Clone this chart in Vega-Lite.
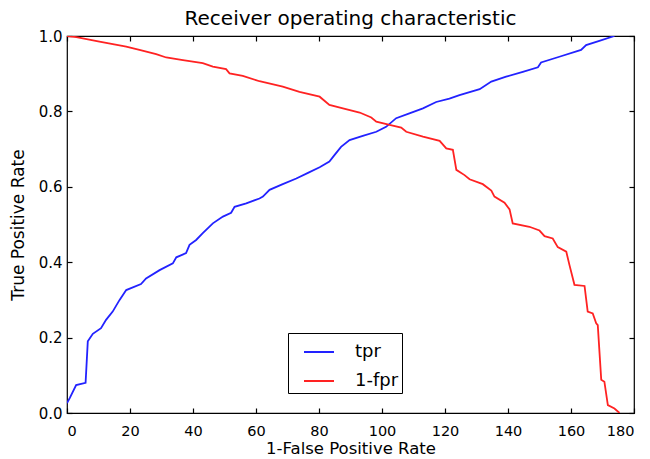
{
  "$schema": "https://vega.github.io/schema/vega-lite/v6.json",
  "width": 567,
  "height": 377,
  "autosize": {"type": "none"},
  "padding": {"left": 67, "top": 36, "right": 16, "bottom": 46},
  "background": "white",
  "title": {"text": "Receiver operating characteristic", "font": "DejaVu Sans", "fontSize": 20, "fontWeight": "normal", "color": "black", "offset": 0},
  "config": {
    "view": {"stroke": "black", "strokeWidth": 1.2},
    "axis": {"grid": false, "domain": false, "tickColor": "black", "tickWidth": 1.2, "labelColor": "black", "titleColor": "black", "labelFont": "DejaVu Sans", "titleFont": "DejaVu Sans", "labelFontSize": 15, "titleFontSize": 17, "titleFontWeight": "normal"}
  },
  "data": {"values": [
    {"x": 0, "rate": 0.026, "series": "tpr"},
    {"x": 0.9, "rate": 0.04, "series": "tpr"},
    {"x": 2.9, "rate": 0.074, "series": "tpr"},
    {"x": 5.9, "rate": 0.08, "series": "tpr"},
    {"x": 6.6, "rate": 0.19, "series": "tpr"},
    {"x": 8.2, "rate": 0.21, "series": "tpr"},
    {"x": 10.8, "rate": 0.225, "series": "tpr"},
    {"x": 12.4, "rate": 0.247, "series": "tpr"},
    {"x": 14.5, "rate": 0.269, "series": "tpr"},
    {"x": 16.7, "rate": 0.3, "series": "tpr"},
    {"x": 18.8, "rate": 0.326, "series": "tpr"},
    {"x": 23.5, "rate": 0.342, "series": "tpr"},
    {"x": 25.1, "rate": 0.357, "series": "tpr"},
    {"x": 29.4, "rate": 0.379, "series": "tpr"},
    {"x": 33.6, "rate": 0.397, "series": "tpr"},
    {"x": 34.7, "rate": 0.413, "series": "tpr"},
    {"x": 37.8, "rate": 0.424, "series": "tpr"},
    {"x": 38.9, "rate": 0.446, "series": "tpr"},
    {"x": 41.0, "rate": 0.459, "series": "tpr"},
    {"x": 43.1, "rate": 0.477, "series": "tpr"},
    {"x": 46.3, "rate": 0.503, "series": "tpr"},
    {"x": 49.5, "rate": 0.521, "series": "tpr"},
    {"x": 52.1, "rate": 0.531, "series": "tpr"},
    {"x": 53.2, "rate": 0.547, "series": "tpr"},
    {"x": 56.9, "rate": 0.556, "series": "tpr"},
    {"x": 61.1, "rate": 0.569, "series": "tpr"},
    {"x": 62.2, "rate": 0.574, "series": "tpr"},
    {"x": 64.3, "rate": 0.592, "series": "tpr"},
    {"x": 68.5, "rate": 0.607, "series": "tpr"},
    {"x": 72.8, "rate": 0.622, "series": "tpr"},
    {"x": 76.5, "rate": 0.637, "series": "tpr"},
    {"x": 80.2, "rate": 0.652, "series": "tpr"},
    {"x": 83.3, "rate": 0.667, "series": "tpr"},
    {"x": 84.9, "rate": 0.684, "series": "tpr"},
    {"x": 87.0, "rate": 0.706, "series": "tpr"},
    {"x": 89.7, "rate": 0.724, "series": "tpr"},
    {"x": 93.9, "rate": 0.735, "series": "tpr"},
    {"x": 98.2, "rate": 0.746, "series": "tpr"},
    {"x": 101.3, "rate": 0.759, "series": "tpr"},
    {"x": 104.5, "rate": 0.782, "series": "tpr"},
    {"x": 108.7, "rate": 0.795, "series": "tpr"},
    {"x": 113.0, "rate": 0.808, "series": "tpr"},
    {"x": 117.2, "rate": 0.825, "series": "tpr"},
    {"x": 121.4, "rate": 0.834, "series": "tpr"},
    {"x": 124.6, "rate": 0.843, "series": "tpr"},
    {"x": 131.0, "rate": 0.859, "series": "tpr"},
    {"x": 134.7, "rate": 0.879, "series": "tpr"},
    {"x": 139.4, "rate": 0.892, "series": "tpr"},
    {"x": 144.7, "rate": 0.905, "series": "tpr"},
    {"x": 149.5, "rate": 0.917, "series": "tpr"},
    {"x": 150.5, "rate": 0.93, "series": "tpr"},
    {"x": 156.3, "rate": 0.945, "series": "tpr"},
    {"x": 163.2, "rate": 0.963, "series": "tpr"},
    {"x": 164.8, "rate": 0.976, "series": "tpr"},
    {"x": 169.0, "rate": 0.987, "series": "tpr"},
    {"x": 173.8, "rate": 1.0, "series": "tpr"},
    {"x": 0, "rate": 1.0, "series": "1-fpr"},
    {"x": 3, "rate": 0.997, "series": "1-fpr"},
    {"x": 10.3, "rate": 0.985, "series": "1-fpr"},
    {"x": 18.8, "rate": 0.972, "series": "1-fpr"},
    {"x": 23.0, "rate": 0.963, "series": "1-fpr"},
    {"x": 28.3, "rate": 0.952, "series": "1-fpr"},
    {"x": 31.5, "rate": 0.943, "series": "1-fpr"},
    {"x": 36.8, "rate": 0.936, "series": "1-fpr"},
    {"x": 43.1, "rate": 0.928, "series": "1-fpr"},
    {"x": 46.3, "rate": 0.919, "series": "1-fpr"},
    {"x": 50.5, "rate": 0.912, "series": "1-fpr"},
    {"x": 51.6, "rate": 0.901, "series": "1-fpr"},
    {"x": 55.8, "rate": 0.894, "series": "1-fpr"},
    {"x": 61.1, "rate": 0.88, "series": "1-fpr"},
    {"x": 68.5, "rate": 0.866, "series": "1-fpr"},
    {"x": 73.8, "rate": 0.852, "series": "1-fpr"},
    {"x": 80.2, "rate": 0.839, "series": "1-fpr"},
    {"x": 83.3, "rate": 0.817, "series": "1-fpr"},
    {"x": 87.6, "rate": 0.808, "series": "1-fpr"},
    {"x": 92.9, "rate": 0.797, "series": "1-fpr"},
    {"x": 96.6, "rate": 0.784, "series": "1-fpr"},
    {"x": 98.2, "rate": 0.773, "series": "1-fpr"},
    {"x": 102.4, "rate": 0.764, "series": "1-fpr"},
    {"x": 106.1, "rate": 0.757, "series": "1-fpr"},
    {"x": 107.7, "rate": 0.746, "series": "1-fpr"},
    {"x": 113.0, "rate": 0.733, "series": "1-fpr"},
    {"x": 118.3, "rate": 0.722, "series": "1-fpr"},
    {"x": 120.4, "rate": 0.702, "series": "1-fpr"},
    {"x": 122.5, "rate": 0.698, "series": "1-fpr"},
    {"x": 123.6, "rate": 0.645, "series": "1-fpr"},
    {"x": 126.2, "rate": 0.631, "series": "1-fpr"},
    {"x": 127.8, "rate": 0.62, "series": "1-fpr"},
    {"x": 132.0, "rate": 0.607, "series": "1-fpr"},
    {"x": 134.7, "rate": 0.59, "series": "1-fpr"},
    {"x": 135.7, "rate": 0.574, "series": "1-fpr"},
    {"x": 138.9, "rate": 0.558, "series": "1-fpr"},
    {"x": 140.5, "rate": 0.54, "series": "1-fpr"},
    {"x": 141.5, "rate": 0.503, "series": "1-fpr"},
    {"x": 146.8, "rate": 0.494, "series": "1-fpr"},
    {"x": 150.0, "rate": 0.484, "series": "1-fpr"},
    {"x": 151.6, "rate": 0.469, "series": "1-fpr"},
    {"x": 154.2, "rate": 0.463, "series": "1-fpr"},
    {"x": 155.8, "rate": 0.44, "series": "1-fpr"},
    {"x": 158.5, "rate": 0.428, "series": "1-fpr"},
    {"x": 159.5, "rate": 0.393, "series": "1-fpr"},
    {"x": 161.1, "rate": 0.34, "series": "1-fpr"},
    {"x": 164.3, "rate": 0.337, "series": "1-fpr"},
    {"x": 165.3, "rate": 0.269, "series": "1-fpr"},
    {"x": 166.9, "rate": 0.264, "series": "1-fpr"},
    {"x": 168.0, "rate": 0.238, "series": "1-fpr"},
    {"x": 168.5, "rate": 0.233, "series": "1-fpr"},
    {"x": 169.6, "rate": 0.088, "series": "1-fpr"},
    {"x": 170.6, "rate": 0.083, "series": "1-fpr"},
    {"x": 171.7, "rate": 0.021, "series": "1-fpr"},
    {"x": 173.8, "rate": 0.012, "series": "1-fpr"},
    {"x": 175.4, "rate": 0.0, "series": "1-fpr"}
  ]},
  "layer": [
    {
      "mark": {"type": "line", "strokeWidth": 1.8, "clip": true},
      "encoding": {
        "x": {"field": "x", "type": "quantitative", "scale": {"domain": [0, 180], "nice": false, "zero": false},
          "axis": {"title": "1-False Positive Rate", "values": [0,20,40,60,80,100,120,140,160,180], "tickSize": -5, "labelFontSize": 14.5, "labelPadding": 16, "titlePadding": 3, "titleFontSize": 16.5}},
        "y": {"field": "rate", "type": "quantitative", "scale": {"domain": [0, 1], "nice": false},
          "axis": {"title": "True Positive Rate", "values": [0,0.2,0.4,0.6,0.8,1.0], "format": ".1f", "tickSize": -5, "labelPadding": 10, "titlePadding": 11}},
        "color": {"field": "series", "type": "nominal", "scale": {"domain": ["tpr", "1-fpr"], "range": ["#2222ff", "#ff2222"]},
          "legend": {"title": null, "orient": "none", "legendX": 221, "legendY": 297, "symbolType": "stroke", "symbolStrokeWidth": 2, "symbolSize": 900, "labelFont": "DejaVu Sans", "labelFontSize": 18, "labelColor": "black", "strokeColor": "black", "fillColor": "white", "padding": 3, "rowPadding": 4, "labelOffset": 20, "symbolOffset": 12, "labelExpr": "datum.label + '\u00a0\u00a0'"}}
      }
    },
    {
      "mark": {"type": "line", "opacity": 0},
      "encoding": {
        "x": {"field": "x", "type": "quantitative", "scale": {"domain": [0, 180], "nice": false, "zero": false},
          "axis": {"orient": "top", "title": null, "labels": false, "values": [0,20,40,60,80,100,120,140,160,180], "tickSize": -5}},
        "y": {"field": "rate", "type": "quantitative", "scale": {"domain": [0, 1], "nice": false},
          "axis": {"orient": "right", "title": null, "labels": false, "values": [0,0.2,0.4,0.6,0.8,1.0], "tickSize": -5}},
        "detail": {"field": "series", "type": "nominal"}
      }
    }
  ],
  "resolve": {"axis": {"x": "independent", "y": "independent"}}
}
